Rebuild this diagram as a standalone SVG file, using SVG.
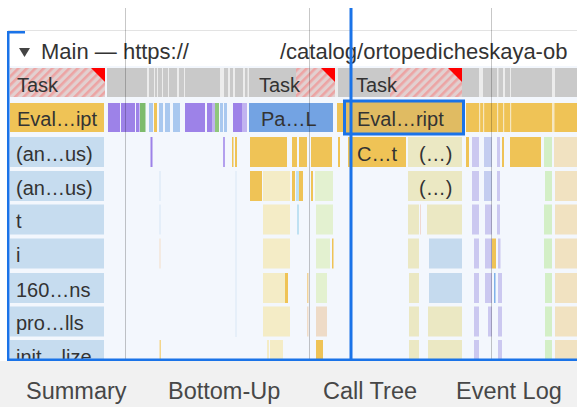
<svg xmlns="http://www.w3.org/2000/svg" width="577" height="407" viewBox="0 0 577 407">
  <style>
    .lbl { font-family: "Liberation Sans", Arial, sans-serif; font-size: 20px; fill: #333; }
    .hdr { font-family: "Liberation Sans", Arial, sans-serif; font-size: 22px; fill: #333; }
    .tab { font-family: "Liberation Sans", Arial, sans-serif; font-size: 23.5px; fill: #474747; }
    .task { fill: #c9c9c9; }
    .gap { fill: #ececec; }
    .ygap { fill: #f6e7c0; }
    .col { fill: #c6dcef; }
    .y { fill: #efc356; }
    .ly { fill: #f4ecc6; }
    .kh { fill: #ebe8c3; }
    .lg { fill: #e3f1d0; }
    .lv { fill: #cbc8f0; }
    .lb { fill: #c5daee; }
    .bg { fill: #f1e2c1; }
    .gr { fill: #d3efc6; }
    .pc { fill: #eedbc7; }
    .pu { fill: #9d82e8; }
    .grid { stroke: #000; stroke-opacity: 0.22; stroke-width: 1; }
    .sel { fill: #e0bb62; stroke: #1a73e8; stroke-width: 3; }
  </style>
  <defs>
    <pattern id="hatch" width="6" height="6" patternUnits="userSpaceOnUse" patternTransform="rotate(45)">
      <rect width="6" height="6" fill="#e2d0d0"/>
      <rect width="2.6" height="6" fill="#eca4a4"/>
    </pattern>
    <clipPath id="chartClip">
      <rect x="8" y="66" width="569" height="293"/>
    </clipPath>
  </defs>

  <!-- page background -->
  <rect x="0" y="0" width="577" height="407" fill="#ffffff"/>
  <rect x="8" y="66" width="569" height="294" fill="#f3f7fd"/>
  <line x1="8" y1="30.5" x2="577" y2="30.5" stroke="#e3e3e3" stroke-width="1"/>

  <!-- track header -->
  <g id="track-header">
    <polygon points="19,48 30,48 24.5,57" fill="#444"/>
    <text class="hdr" x="41" y="59">Main — https://</text>
    <text class="hdr" x="280" y="59">/catalog/ortopedicheskaya-ob</text>
  </g>

  <g clip-path="url(#chartClip)">
    <!-- Task row -->
    <g id="task-row">
      <rect x="107" y="68" width="470" height="29" class="task"/>
      <rect x="147" y="68" width="2" height="29" class="gap"/>
      <rect x="154" y="68" width="1" height="29" class="gap"/>
      <rect x="157" y="68" width="1" height="29" class="gap"/>
      <rect x="162" y="68" width="1" height="29" class="gap"/>
      <rect x="168" y="68" width="1" height="29" class="gap"/>
      <rect x="177" y="68" width="2" height="29" class="gap"/>
      <rect x="184" y="68" width="1" height="29" class="gap"/>
      <rect x="220" y="68" width="4" height="29" class="gap"/>
      <rect x="228" y="68" width="2" height="29" class="gap"/>
      <rect x="233" y="68" width="2" height="29" class="gap"/>
      <rect x="243" y="68" width="2" height="29" class="gap"/>
      <rect x="247.5" y="68" width="1.5" height="29" class="gap"/>
      <rect x="335" y="68" width="3" height="29" class="gap"/>
      <rect x="479" y="68" width="4" height="29" class="gap"/>
      <rect x="497" y="68" width="1.5" height="29" class="gap"/>
      <rect x="503" y="68" width="2" height="29" class="gap"/>
      <rect x="510" y="68" width="1" height="29" class="gap"/>
      <rect x="552" y="68" width="3" height="29" class="gap"/>
    </g>
    <g id="task-1">
      <rect x="10" y="68" width="95" height="29" fill="url(#hatch)"/>
      <polygon points="91,68 105,68 105,82" fill="#ff0000"/>
      <text class="lbl" x="17" y="92">Task</text>
    </g>
    <g id="task-2">
      <rect x="296" y="68" width="39" height="29" fill="url(#hatch)"/>
      <polygon points="321,68 335,68 335,82" fill="#ff0000"/>
      <text class="lbl" x="259" y="92">Task</text>
    </g>
    <g id="task-3">
      <rect x="390" y="68" width="72" height="29" fill="url(#hatch)"/>
      <polygon points="448,68 462,68 462,82" fill="#ff0000"/>
      <text class="lbl" x="356" y="92">Task</text>
    </g>

    <!-- Evaluate script row -->
    <g id="eval-row">
      <rect x="108" y="103" width="12" height="29" class="pu"/>
      <rect x="121" y="103" width="14" height="29" class="pu"/>
      <rect x="136" y="103" width="3.5" height="29" class="pu"/>
      <rect x="140" y="103" width="5.5" height="29" fill="#7dbb6c"/>
      <rect x="149" y="103" width="4" height="29" fill="#a9c8ef"/>
      <rect x="154" y="103" width="3" height="29" class="y"/>
      <rect x="159" y="103" width="4" height="29" fill="#a9c8ef"/>
      <rect x="165" y="103" width="5" height="29" fill="#a9c8ef"/>
      <rect x="173" y="103" width="7" height="29" fill="#a9c8ef"/>
      <rect x="185" y="103" width="20" height="29" class="pu"/>
      <rect x="207" y="103" width="5" height="29" class="pu"/>
      <rect x="212" y="103" width="3" height="29" fill="#c1b3f0"/>
      <rect x="215" y="103" width="4" height="29" fill="#8fc77c"/>
      <rect x="220" y="103" width="3" height="29" fill="#a9c8ef"/>
      <rect x="224" y="103" width="3" height="29" fill="#a9c8ef"/>
      <rect x="233" y="103" width="9" height="29" class="pu"/>
      <rect x="242" y="103" width="5" height="29" fill="#c1b3f0"/>
      <rect x="337" y="103" width="9" height="29" class="y"/>
      <rect x="466" y="103" width="111" height="29" class="y"/>
      <rect x="479" y="103" width="1.2" height="29" class="ygap"/>
      <rect x="483" y="103" width="1.2" height="29" class="ygap"/>
      <rect x="497" y="103" width="1.2" height="29" class="ygap"/>
      <rect x="503" y="103" width="1.2" height="29" class="ygap"/>
      <rect x="510" y="103" width="1.2" height="29" class="ygap"/>
      <rect x="552" y="103" width="2.5" height="29" class="ygap"/>
    </g>
    <g id="eval-1">
      <rect x="10" y="103" width="94" height="29" class="y"/>
      <text class="lbl" x="17" y="126">Eval…ipt</text>
    </g>
    <g id="parse-html">
      <rect x="249" y="103" width="84" height="29" fill="#73a3e3"/>
      <text class="lbl" x="261" y="126">Pa…L</text>
    </g>

    <!-- deeper rows -->
    <g id="stack-rows">
      <!-- row 2 -->
      <rect x="150.5" y="137" width="2" height="30" class="pu"/>
      <rect x="223" y="137" width="2" height="30" fill="#b3a0ee"/>
      <rect x="232" y="137" width="1.5" height="30" class="y"/>
      <rect x="235" y="137" width="2" height="30" class="y"/>
      <rect x="250" y="137" width="37" height="30" class="y"/>
      <rect x="292" y="137" width="5" height="30" class="y"/>
      <rect x="299" y="137" width="8" height="30" class="y"/>
      <rect x="311" y="137" width="21" height="30" class="y"/>
      <rect x="338" y="137" width="2" height="30" class="y"/>
      <rect x="466" y="137" width="3" height="30" class="y"/>
      <rect x="472" y="137" width="7" height="30" class="lv"/>
      <rect x="484" y="137" width="8" height="30" fill="#c4cdf0"/>
      <rect x="497" y="137" width="3" height="30" class="lv"/>
      <rect x="502" y="137" width="2" height="30" class="y"/>
      <rect x="510" y="137" width="31" height="30" class="y"/>
      <rect x="544" y="137" width="8" height="30" class="gr"/>
      <rect x="554" y="137" width="23" height="30" class="bg"/>
      <!-- row 3 -->
      <rect x="159.5" y="171" width="1" height="30" fill="#d5e6f5"/>
      <rect x="250" y="171" width="12" height="30" class="y"/>
      <rect x="263" y="171" width="27" height="30" class="ly"/>
      <rect x="292" y="171" width="3" height="30" class="y"/>
      <rect x="296" y="171" width="3" height="30" fill="#bfe1f2"/>
      <rect x="299" y="171" width="4" height="30" class="y"/>
      <rect x="311" y="171" width="2" height="30" class="y"/>
      <rect x="315" y="171" width="18" height="30" class="lg"/>
      <rect x="472" y="171" width="7" height="30" class="lv"/>
      <rect x="484" y="171" width="8" height="30" fill="#c4cdf0"/>
      <rect x="497" y="171" width="3" height="30" class="lv"/>
      <rect x="545" y="171" width="7" height="30" class="gr"/>
      <rect x="555" y="171" width="22" height="30" class="bg"/>
      <!-- row 4 -->
      <rect x="159.5" y="204.5" width="1" height="30" fill="#d5e6f5"/>
      <rect x="235.5" y="171" width="1" height="166" fill="#d9e8f5"/>
      <rect x="263" y="204.5" width="27" height="30" class="ly"/>
      <rect x="297" y="204.5" width="2" height="30" fill="#bfe1f2"/>
      <rect x="316" y="204.5" width="17" height="30" class="lg"/>
      <rect x="408" y="204.5" width="11" height="30" class="kh"/>
      <rect x="420" y="204.5" width="1" height="30" fill="#f0d8d0"/>
      <rect x="427" y="204.5" width="35" height="30" class="kh"/>
      <rect x="472" y="204.5" width="7" height="30" class="lv"/>
      <rect x="485" y="204.5" width="7" height="30" class="lv"/>
      <rect x="497" y="204.5" width="3" height="30" class="lv"/>
      <rect x="544" y="204.5" width="8" height="30" class="gr"/>
      <rect x="555" y="204.5" width="22" height="30" class="bg"/>
      <!-- row 5 -->
      <rect x="159.5" y="238.5" width="1" height="30" fill="#f3ddc8"/>
      <rect x="263" y="238.5" width="27" height="30" class="ly"/>
      <rect x="316" y="238.5" width="14" height="30" class="lg"/>
      <rect x="332" y="238.5" width="1.5" height="30" class="y"/>
      <rect x="408" y="238.5" width="11" height="30" class="kh"/>
      <rect x="429" y="238.5" width="33" height="30" class="lb"/>
      <rect x="474" y="238.5" width="5" height="30" class="lv"/>
      <rect x="485" y="238.5" width="7" height="30" class="lv"/>
      <rect x="492" y="238.5" width="4" height="30" class="y"/>
      <rect x="498" y="238.5" width="2.5" height="30" class="lv"/>
      <rect x="544" y="238.5" width="8" height="30" class="gr"/>
      <rect x="555" y="238.5" width="22" height="30" class="bg"/>
      <!-- row 6 -->
      <rect x="263" y="273" width="22" height="30" class="ly"/>
      <rect x="285" y="273" width="3" height="30" class="y"/>
      <rect x="307" y="273" width="1.5" height="30" fill="#f2d39a"/>
      <rect x="316" y="273" width="11" height="30" class="lg"/>
      <rect x="409" y="273" width="10" height="30" class="kh"/>
      <rect x="429" y="273" width="33" height="30" class="lb"/>
      <rect x="474" y="273" width="5" height="30" class="lv"/>
      <rect x="485" y="273" width="7" height="30" class="lv"/>
      <rect x="494" y="273" width="1.5" height="30" fill="#7fb0ea"/>
      <rect x="498" y="273" width="4" height="30" class="lv"/>
      <rect x="545" y="273" width="7" height="30" class="gr"/>
      <rect x="555" y="273" width="22" height="30" class="bg"/>
      <!-- row 7 -->
      <rect x="263" y="306.5" width="27" height="30" class="ly"/>
      <rect x="307" y="306.5" width="1.5" height="30" fill="#f0dcc8"/>
      <rect x="316" y="306.5" width="11" height="30" class="pc"/>
      <rect x="409" y="306.5" width="10" height="30" class="kh"/>
      <rect x="428" y="306.5" width="34" height="30" class="kh"/>
      <rect x="474" y="306.5" width="5" height="30" class="lv"/>
      <rect x="488" y="306.5" width="4" height="30" class="lv"/>
      <rect x="498" y="306.5" width="4" height="30" class="lv"/>
      <rect x="545" y="306.5" width="7" height="30" class="gr"/>
      <rect x="555" y="306.5" width="22" height="30" class="bg"/>
      <!-- row 8 -->
      <rect x="159.5" y="340" width="1.5" height="30" fill="#f3d58a"/>
      <rect x="267" y="340" width="2" height="30" class="ly"/>
      <rect x="270" y="340" width="13" height="30" class="ly"/>
      <rect x="316" y="340" width="7" height="30" class="y"/>
      <rect x="409" y="340" width="10" height="30" class="kh"/>
      <rect x="428" y="340" width="34" height="30" class="kh"/>
      <rect x="474" y="340" width="5" height="30" class="lv"/>
      <rect x="498" y="340" width="4" height="30" class="lv"/>
      <rect x="545" y="340" width="7" height="30" class="gr"/>
      <rect x="555" y="340" width="22" height="30" class="bg"/>
    </g>

    <!-- labelled call frames -->
    <g id="anon-1"><rect x="10" y="137" width="94" height="30" class="col"/><text class="lbl" x="16" y="160.5">(an…us)</text></g>
    <g id="anon-2"><rect x="10" y="171" width="94" height="30" class="col"/><text class="lbl" x="16" y="194.5">(an…us)</text></g>
    <g id="frame-t"><rect x="10" y="204.5" width="94" height="30" class="col"/><text class="lbl" x="16" y="228">t</text></g>
    <g id="frame-i"><rect x="10" y="238.5" width="94" height="30" class="col"/><text class="lbl" x="16" y="262">i</text></g>
    <g id="frame-160"><rect x="10" y="273" width="94" height="30" class="col"/><text class="lbl" x="16" y="296.5">160…ns</text></g>
    <g id="frame-pro"><rect x="10" y="306.5" width="94" height="30" class="col"/><text class="lbl" x="16" y="330">pro…lls</text></g>
    <g id="frame-init"><rect x="10" y="340" width="94" height="30" class="col"/><text class="lbl" x="16" y="363.5">init…lize</text></g>
    <g id="compile-t"><rect x="348" y="137" width="58" height="30" class="y"/><text class="lbl" x="357" y="160.5">C…t</text></g>
    <g id="anon-3"><rect x="408" y="137" width="54" height="30" class="kh"/><text class="lbl" x="419" y="160.5">(…)</text></g>
    <g id="anon-4"><rect x="408" y="171" width="54" height="30" class="kh"/><text class="lbl" x="419" y="194.5">(…)</text></g>
    <g id="eval-selected">
      <rect x="344.5" y="101" width="119" height="33" class="sel"/>
      <text class="lbl" x="357" y="126">Eval…ript</text>
    </g>
  </g>

  <!-- time grid and selection markers -->
  <g id="grid">
    <line x1="125.5" y1="8" x2="125.5" y2="360" class="grid"/>
    <line x1="309.5" y1="8" x2="309.5" y2="360" class="grid"/>
    <line x1="491.5" y1="8" x2="491.5" y2="360" class="grid"/>
  </g>
  <g id="selection-frame" fill="#1a73e8">
    <rect x="7" y="31" width="2.5" height="330"/>
    <rect x="7" y="31" width="18" height="2.5"/>
    <rect x="7" y="358.5" width="570" height="2.5"/>
    <rect x="349.5" y="8" width="3" height="352"/>
  </g>

  <!-- bottom tabs -->
  <g id="tabs">
    <rect x="0" y="361" width="577" height="46" fill="#f1f1f1"/>
    <text class="tab" x="26" y="399">Summary</text>
    <text class="tab" x="168" y="399">Bottom-Up</text>
    <text class="tab" x="323" y="399">Call Tree</text>
    <text class="tab" x="456" y="399">Event Log</text>
  </g>
</svg>
